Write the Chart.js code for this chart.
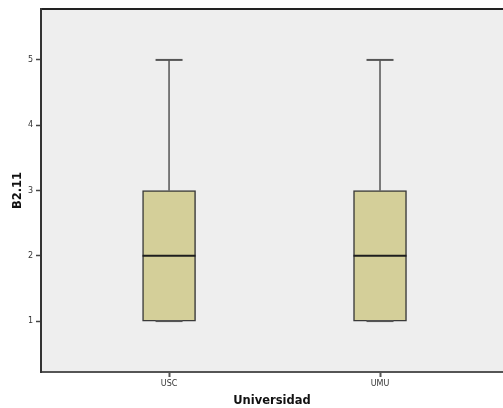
<!DOCTYPE html>
<html>
<head>
<meta charset="utf-8">
<script src="https://cdn.jsdelivr.net/npm/chart.js@4/dist/chart.umd.min.js"></script>
<style>
  html, body { margin: 0; padding: 0; background: #ffffff; }
  #wrap { width: 503px; height: 408px; position: relative; }
</style>
</head>
<body>
<div id="wrap"><canvas id="c"></canvas></div>
<script>
// Box plot of B2.11 by university
const categories = ['USC', 'UMU'];
const positions  = [1, 2];
const minValues    = [1, 1];
const q1Values     = [1, 1];
const medianValues = [2, 2];
const q3Values     = [3, 3];
const maxValues    = [5, 5];
const yTicks = [1, 2, 3, 4, 5];

// Boxes (floating bars from Q1 to Q3)
const boxData = positions.map((x, i) => ({ x: x, y: [q1Values[i], q3Values[i]] }));

// Whisker stems: Q3 -> max and min -> Q1, separated by gaps
const whiskerData = [];
positions.forEach((x, i) => {
  whiskerData.push({ x: x, y: q3Values[i] }, { x: x, y: maxValues[i] }, { x: x, y: null });
  whiskerData.push({ x: x, y: minValues[i] }, { x: x, y: q1Values[i] }, { x: x, y: null });
});

// Whisker caps and medians drawn as horizontal line markers
const capData = [];
positions.forEach((x, i) => {
  capData.push({ x: x, y: maxValues[i] }, { x: x, y: minValues[i] });
});
const medianData = positions.map((x, i) => ({ x: x, y: medianValues[i] }));

const plotBackground = {
  id: 'plotBackground',
  beforeDraw(chart) {
    const { ctx, chartArea: a } = chart;
    ctx.save();
    ctx.fillStyle = '#eeeeee';
    ctx.fillRect(a.left, a.top, a.right - a.left, a.bottom - a.top);
    ctx.restore();
  }
};

const tickFont = { family: 'DejaVu Sans', size: 8 };
const titleFont = { family: 'DejaVu Sans', size: 11.5, weight: 'bold' };

new Chart(document.getElementById('c'), {
  data: {
    datasets: [
      {
        type: 'line',
        data: whiskerData,
        borderColor: '#555555',
        borderWidth: 1.5,
        pointRadius: 0,
        spanGaps: false,
        order: 3
      },
      {
        type: 'bar',
        data: boxData,
        backgroundColor: '#d4cf99',
        borderColor: '#3a3a3a',
        borderWidth: 1.5,
        borderSkipped: false,
        barThickness: 53,
        order: 2
      },
      {
        type: 'scatter',
        data: capData,
        pointStyle: 'line',
        pointRadius: 13.5,
        pointHoverRadius: 13.5,
        borderColor: '#555555',
        borderWidth: 2,
        order: 1
      },
      {
        type: 'scatter',
        data: medianData,
        pointStyle: 'line',
        pointRadius: 26.5,
        pointHoverRadius: 26.5,
        borderColor: '#1e1e1e',
        borderWidth: 2,
        order: 0
      }
    ]
  },
  options: {
    responsive: true,
    maintainAspectRatio: false,
    animation: false,
    events: [],
    layout: { autoPadding: false, padding: { top: 9, right: 0, left: 0, bottom: 0 } },
    plugins: { legend: { display: false }, tooltip: { enabled: false } },
    scales: {
      x: {
        type: 'linear',
        offset: false,
        min: 0.393,
        max: 2.583,
        afterBuildTicks(scale) { scale.ticks = positions.map(v => ({ value: v })); },
        afterFit(scale) { scale.height = 36; },
        ticks: {
          callback: (v) => categories[positions.indexOf(v)] || '',
          font: tickFont,
          color: '#333333',
          padding: 2,
          maxRotation: 0,
          autoSkip: false
        },
        grid: { offset: false, drawOnChartArea: false, tickLength: 5, tickColor: '#555555', tickWidth: 2 },
        border: { color: '#555555', width: 2 },
        title: { display: true, text: 'Universidad', font: titleFont, color: '#111111', padding: { top: 5, bottom: 0 } }
      },
      x2: {
        type: 'linear',
        position: 'top',
        offset: false,
        min: 0.393,
        max: 2.583,
        afterFit(scale) { scale.height = 0; },
        ticks: { display: false },
        grid: { display: false, offset: false },
        border: { color: '#222222', width: 2 }
      },
      y: {
        type: 'linear',
        min: 0.22,
        max: 5.78,
        afterBuildTicks(scale) { scale.ticks = yTicks.map(v => ({ value: v })); },
        afterFit(scale) { scale.width = 41; },
        ticks: { font: tickFont, color: '#333333', padding: 3 },
        grid: { drawOnChartArea: false, tickLength: 5, tickColor: '#444444', tickWidth: 1.5 },
        border: { color: '#333333', width: 2 },
        title: { display: true, text: 'B2.11', font: titleFont, color: '#111111', padding: { top: 11, bottom: 0 } }
      }
    }
  },
  plugins: [plotBackground]
});
</script>
</body>
</html>
